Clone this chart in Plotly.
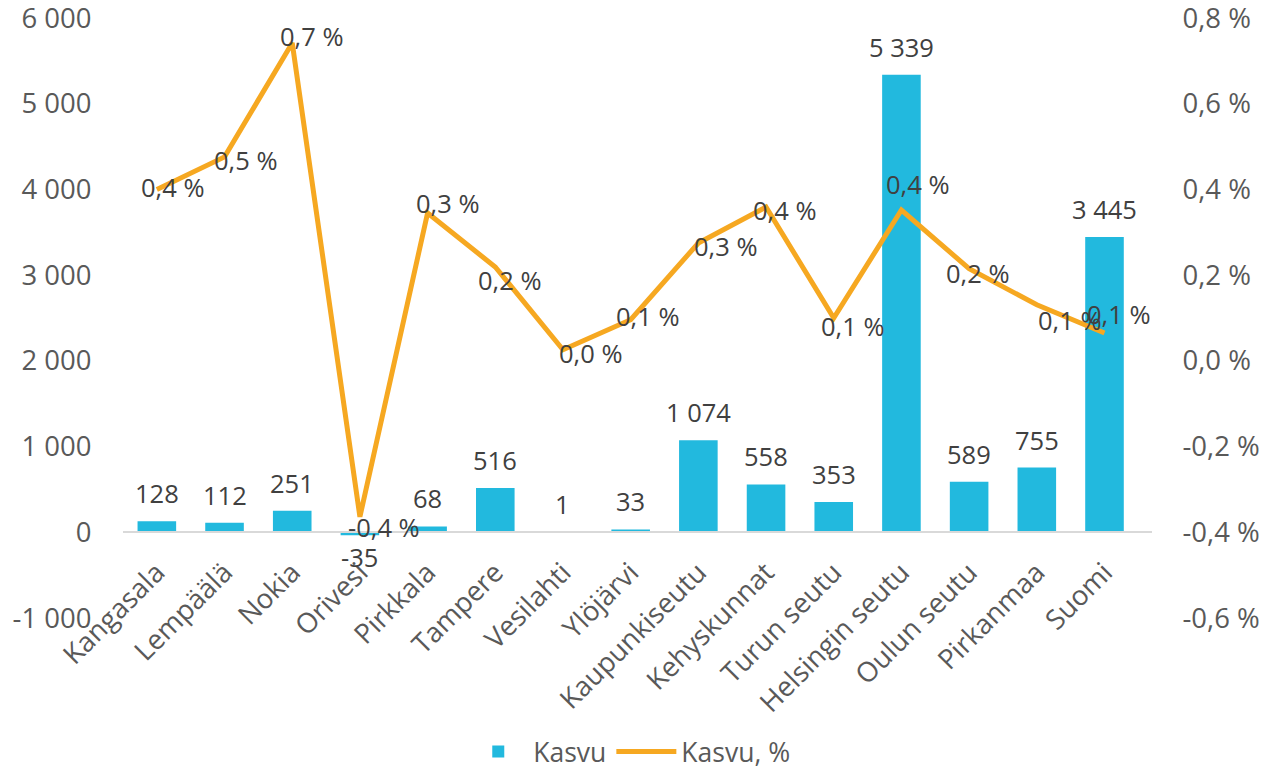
import plotly.graph_objects as go

categories = ["Kangasala", "Lempäälä", "Nokia", "Orivesi", "Pirkkala", "Tampere",
              "Vesilahti", "Ylöjärvi", "Kaupunkiseutu", "Kehyskunnat", "Turun seutu",
              "Helsingin seutu", "Oulun seutu", "Pirkanmaa", "Suomi"]
kasvu = [128, 112, 251, -35, 68, 516, 1, 33, 1074, 558, 353, 5339, 589, 755, 3445]
kasvu_pct = [0.40, 0.476, 0.742, -0.364, 0.345, 0.219, 0.026, 0.096, 0.275, 0.359,
             0.100, 0.352, 0.215, 0.131, 0.065]

left_ticks = [-1000, 0, 1000, 2000, 3000, 4000, 5000, 6000]
right_ticks = [-0.6, -0.4, -0.2, 0.0, 0.2, 0.4, 0.6, 0.8]

# per-label pixel nudges for the percentage labels (layout only)
pct_dx = [16, 21, 19, 24, 20, 14, 28, 17, 27, 18, 19, 16, 8, 33, 14]
pct_dy = [2, -3, 7, -10, 10, -13, -3, 4, -3, -3, -8, 26, -4, -15, 19]


def fmt_int(v):
    s = f"{abs(int(v)):,}".replace(",", " ")
    return ("-" if v < 0 else "") + s


def fmt_pct(v):
    return f"{v:.1f}".replace(".", ",").replace("-0,0", "0,0") + " %"


BAR = "#22B9DE"
LINE = "#F6A821"
FONT = "Open Sans"
AXIS_GRAY = "#595959"
LABEL_GRAY = "#404040"
TICK_SIZE = 27.5

fig = go.Figure()
fig.add_trace(go.Bar(x=categories, y=kasvu, name="Kasvu", marker_color=BAR,
                     marker_line_width=0, yaxis="y"))
fig.add_trace(go.Scatter(x=categories, y=kasvu_pct, name="Kasvu, %", mode="lines",
                         line=dict(color=LINE, width=5), yaxis="y2"))

annotations = []
for c, v in zip(categories, kasvu):
    annotations.append(dict(x=c, y=v, xref="x", yref="y", text=fmt_int(v),
                            showarrow=False, yanchor="middle",
                            yshift=28 if v >= 0 else -22,
                            font=dict(family=FONT, size=25.5, color=LABEL_GRAY)))
for c, v, dx, dy in zip(categories, kasvu_pct, pct_dx, pct_dy):
    annotations.append(dict(x=c, y=v, xref="x", yref="y2", text=fmt_pct(v),
                            showarrow=False, xanchor="center", yanchor="middle",
                            xshift=dx, yshift=dy,
                            font=dict(family=FONT, size=25.5, color=LABEL_GRAY)))

lo, hi = left_ticks[0], left_ticks[-1]
zero_pos = (0 - lo) / (hi - lo)
eps_l = (hi - lo) * 1e-4
eps_r = (right_ticks[-1] - right_ticks[0]) * 1e-4

fig.update_layout(
    width=1265, height=777,
    margin=dict(l=123, r=113, t=18, b=159, autoexpand=False),
    paper_bgcolor="white", plot_bgcolor="white",
    font=dict(family=FONT, size=25, color=AXIS_GRAY),
    bargap=0.43,
    showlegend=True,
    legend=dict(orientation="h", x=0.492, xanchor="center", y=-0.223, yanchor="middle",
                font=dict(family=FONT, size=26.5, color=AXIS_GRAY), itemwidth=60),
    xaxis=dict(anchor="free", position=zero_pos, showline=True, linecolor="#D9D9D9",
               linewidth=2, tickangle=-45, ticks="outside", ticklen=12,
               tickcolor="rgba(0,0,0,0)", showgrid=False, automargin=False,
               tickfont=dict(family=FONT, size=TICK_SIZE, color=AXIS_GRAY)),
    yaxis=dict(range=[lo - eps_l, hi + eps_l], tickvals=left_ticks,
               ticktext=[fmt_int(v) for v in left_ticks], showgrid=False,
               zeroline=False, ticks="outside", ticklen=25, automargin=False,
               tickcolor="rgba(0,0,0,0)", ticklabeloverflow="allow",
               tickfont=dict(family=FONT, size=TICK_SIZE, color=AXIS_GRAY)),
    yaxis2=dict(range=[right_ticks[0] - eps_r, right_ticks[-1] + eps_r],
                tickvals=right_ticks,
                ticktext=[fmt_pct(v) for v in right_ticks], overlaying="y",
                side="right", showgrid=False, zeroline=False, ticks="outside",
                ticklen=24, tickcolor="rgba(0,0,0,0)", automargin=False,
                ticklabeloverflow="allow",
                tickfont=dict(family=FONT, size=TICK_SIZE, color=AXIS_GRAY)),
    annotations=annotations,
)

fig.write_html(
    "out.html",
    config={"displayModeBar": False},
    post_script="document.body.style.margin='0';document.body.style.overflow='hidden';",
)
